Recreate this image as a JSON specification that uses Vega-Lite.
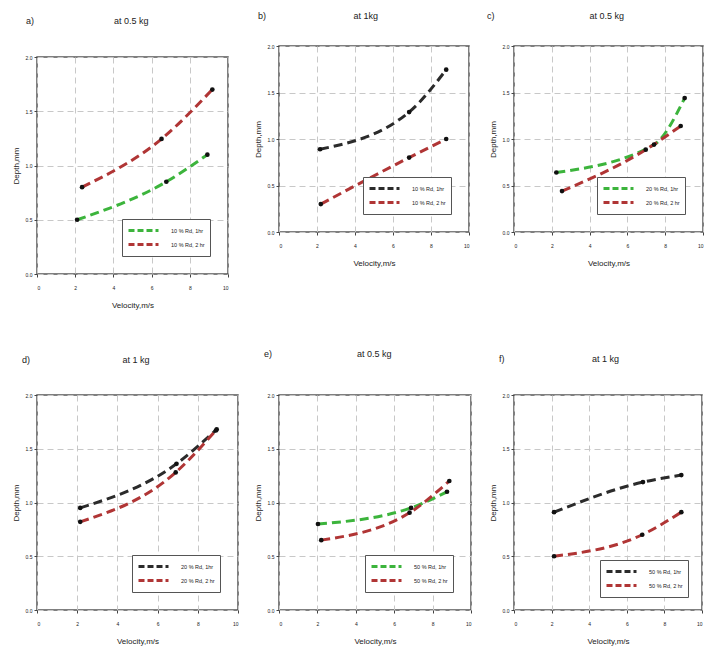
{
  "$schema": "https://vega.github.io/schema/vega-lite/v6.json",
  "padding": {"left": 11, "top": 10, "right": 0, "bottom": 0},
  "background": "white",
  "datasets": {
    "pts": [
      {"p": "a", "s": "10 % Rd, 1hr", "v": 2.1, "d": 0.5},
      {"p": "a", "s": "10 % Rd, 1hr", "v": 6.77, "d": 0.85},
      {"p": "a", "s": "10 % Rd, 1hr", "v": 8.92, "d": 1.1},
      {"p": "a", "s": "10 % Rd, 2 hr", "v": 2.36, "d": 0.8},
      {"p": "a", "s": "10 % Rd, 2 hr", "v": 6.52, "d": 1.245},
      {"p": "a", "s": "10 % Rd, 2 hr", "v": 9.18, "d": 1.7},
      {"p": "b", "s": "10 % Rd, 1hr", "v": 2.16, "d": 0.89},
      {"p": "b", "s": "10 % Rd, 1hr", "v": 6.85, "d": 1.29},
      {"p": "b", "s": "10 % Rd, 1hr", "v": 8.8, "d": 1.745},
      {"p": "b", "s": "10 % Rd, 2 hr", "v": 2.2, "d": 0.3},
      {"p": "b", "s": "10 % Rd, 2 hr", "v": 6.85, "d": 0.8},
      {"p": "b", "s": "10 % Rd, 2 hr", "v": 8.8, "d": 1.0},
      {"p": "c", "s": "20 % Rd, 1hr", "v": 2.24, "d": 0.64},
      {"p": "c", "s": "20 % Rd, 1hr", "v": 7.41, "d": 0.94},
      {"p": "c", "s": "20 % Rd, 1hr", "v": 9.03, "d": 1.44},
      {"p": "c", "s": "20 % Rd, 2 hr", "v": 2.54, "d": 0.44},
      {"p": "c", "s": "20 % Rd, 2 hr", "v": 6.97, "d": 0.885},
      {"p": "c", "s": "20 % Rd, 2 hr", "v": 8.82, "d": 1.14},
      {"p": "d", "s": "20 % Rd, 1hr", "v": 2.15, "d": 0.95},
      {"p": "d", "s": "20 % Rd, 1hr", "v": 6.94, "d": 1.36},
      {"p": "d", "s": "20 % Rd, 1hr", "v": 8.94, "d": 1.68},
      {"p": "d", "s": "20 % Rd, 2 hr", "v": 2.15, "d": 0.82},
      {"p": "d", "s": "20 % Rd, 2 hr", "v": 6.9, "d": 1.28},
      {"p": "d", "s": "20 % Rd, 2 hr", "v": 8.9, "d": 1.67},
      {"p": "e", "s": "50 % Rd, 1hr", "v": 2.03, "d": 0.8},
      {"p": "e", "s": "50 % Rd, 1hr", "v": 6.88, "d": 0.95},
      {"p": "e", "s": "50 % Rd, 1hr", "v": 8.75, "d": 1.1},
      {"p": "e", "s": "50 % Rd, 2 hr", "v": 2.2, "d": 0.65},
      {"p": "e", "s": "50 % Rd, 2 hr", "v": 6.8, "d": 0.905},
      {"p": "e", "s": "50 % Rd, 2 hr", "v": 8.87, "d": 1.2},
      {"p": "f", "s": "50 % Rd, 1hr", "v": 2.13, "d": 0.91},
      {"p": "f", "s": "50 % Rd, 1hr", "v": 6.86, "d": 1.19},
      {"p": "f", "s": "50 % Rd, 1hr", "v": 8.9, "d": 1.255},
      {"p": "f", "s": "50 % Rd, 2 hr", "v": 2.13, "d": 0.5},
      {"p": "f", "s": "50 % Rd, 2 hr", "v": 6.82, "d": 0.7},
      {"p": "f", "s": "50 % Rd, 2 hr", "v": 8.9, "d": 0.91}
    ]
  },
  "config": {
    "font": "Liberation Sans",
    "view": {"stroke": "#555555", "strokeWidth": 1.5},
    "title": {"fontSize": 9, "fontWeight": "normal", "color": "#222222", "anchor": "start", "frame": "group"},
    "axis": {
      "labelFontSize": 5, "labelColor": "#222222", "tickSize": 3, "tickColor": "#444444",
      "domain": false, "titleFontSize": 8, "titleFontWeight": "normal", "titleColor": "#222222",
      "gridColor": "#c8c8c8", "gridDash": [6, 4], "gridWidth": 1
    },
    "axisX": {"labelPadding": 8, "titlePadding": 11},
    "axisY": {"labelPadding": 2, "titlePadding": 5},
    "legend": {
      "orient": "bottom-right", "offset": 18, "strokeColor": "#555555", "fillColor": "white",
      "padding": 5, "symbolType": "M-1,0H5", "symbolSize": 100, "symbolStrokeWidth": 3,
      "symbolDash": [6, 3], "labelFontSize": 5.5, "labelOffset": 31, "rowPadding": 1, "labelColor": "#222222"
    }
  },
  "spacing": 13,
  "resolve": {"scale": {"color": "independent", "x": "independent", "y": "independent"}, "legend": {"color": "independent"}},
  "hconcat": [
    {
      "spacing": 0,
      "resolve": {"scale": {"color": "independent", "x": "independent", "y": "independent"}, "legend": {"color": "independent"}},
      "vconcat": [
        {"width": 1, "height": 6, "view": {"stroke": null}, "data": {"values": [{"k": 0}]}, "mark": {"type": "point", "opacity": 0, "size": 1}, "encoding": {}},
        {
          "spacing": 45,
          "resolve": {"scale": {"color": "independent", "x": "independent", "y": "independent"}, "legend": {"color": "independent"}},
          "vconcat": [
            {
              "width": 191, "height": 217,
              "title": {"text": "a)\u00a0\u00a0\u00a0\u00a0\u00a0\u00a0\u00a0\u00a0\u00a0\u00a0\u00a0\u00a0\u00a0\u00a0\u00a0\u00a0\u00a0\u00a0\u00a0\u00a0\u00a0\u00a0\u00a0\u00a0\u00a0\u00a0\u00a0\u00a0\u00a0\u00a0\u00a0\u00a0at 0.5 kg", "offset": 29, "dx": -11},
              "data": {"name": "pts"},
              "transform": [{"filter": "datum.p === 'a'"}],
              "encoding": {
                "x": {"field": "v", "type": "quantitative", "scale": {"domain": [0, 10], "nice": false}, "axis": {"values": [0, 2, 4, 6, 8, 10], "format": "d", "title": "Velocity,m/s"}},
                "y": {"field": "d", "type": "quantitative", "scale": {"domain": [0, 2], "nice": false}, "axis": {"values": [0, 0.5, 1, 1.5, 2], "format": ".1f", "title": "Depth,mm"}}
              },
              "layer": [
                {"mark": {"type": "line", "interpolate": "monotone", "strokeWidth": 3, "strokeDash": [9, 5]},
                 "encoding": {"color": {"field": "s", "type": "nominal", "scale": {"range": ["#3cb43c", "#b03535"]}, "legend": {"title": null}}}},
                {"mark": {"type": "point", "filled": true, "color": "#111111", "size": 22, "opacity": 1}}
              ]
            },
            {
              "width": 201, "height": 215,
              "title": {"text": "d)\u00a0\u00a0\u00a0\u00a0\u00a0\u00a0\u00a0\u00a0\u00a0\u00a0\u00a0\u00a0\u00a0\u00a0\u00a0\u00a0\u00a0\u00a0\u00a0\u00a0\u00a0\u00a0\u00a0\u00a0\u00a0\u00a0\u00a0\u00a0\u00a0\u00a0\u00a0\u00a0\u00a0\u00a0\u00a0\u00a0\u00a0at 1 kg", "offset": 28, "dx": -15},
              "data": {"name": "pts"},
              "transform": [{"filter": "datum.p === 'd'"}],
              "encoding": {
                "x": {"field": "v", "type": "quantitative", "scale": {"domain": [0, 10], "nice": false}, "axis": {"values": [0, 2, 4, 6, 8, 10], "format": "d", "title": "Velocity,m/s"}},
                "y": {"field": "d", "type": "quantitative", "scale": {"domain": [0, 2], "nice": false}, "axis": {"values": [0, 0.5, 1, 1.5, 2], "format": ".1f", "title": "Depth,mm"}}
              },
              "layer": [
                {"mark": {"type": "line", "interpolate": "monotone", "strokeWidth": 3, "strokeDash": [9, 5]},
                 "encoding": {"color": {"field": "s", "type": "nominal", "scale": {"range": ["#2b2b2b", "#b03535"]}, "legend": {"title": null}}}},
                {"mark": {"type": "point", "filled": true, "color": "#111111", "size": 22, "opacity": 1}}
              ]
            }
          ]
        }
      ]
    },
    {
      "spacing": 0,
      "resolve": {"scale": {"color": "independent", "x": "independent", "y": "independent"}, "legend": {"color": "independent"}},
      "vconcat": [
        {"width": 1, "height": 1, "view": {"stroke": null}, "data": {"values": [{"k": 0}]}, "mark": {"type": "point", "opacity": 0, "size": 1}, "encoding": {}},
        {
          "spacing": 81,
          "resolve": {"scale": {"color": "independent", "x": "independent", "y": "independent"}, "legend": {"color": "independent"}},
          "vconcat": [
            {
              "width": 190, "height": 186,
              "title": {"text": "b)\u00a0\u00a0\u00a0\u00a0\u00a0\u00a0\u00a0\u00a0\u00a0\u00a0\u00a0\u00a0\u00a0\u00a0\u00a0\u00a0\u00a0\u00a0\u00a0\u00a0\u00a0\u00a0\u00a0\u00a0\u00a0\u00a0\u00a0\u00a0\u00a0\u00a0\u00a0\u00a0\u00a0\u00a0\u00a0at 1kg", "offset": 23, "dx": -21},
              "data": {"name": "pts"},
              "transform": [{"filter": "datum.p === 'b'"}],
              "encoding": {
                "x": {"field": "v", "type": "quantitative", "scale": {"domain": [0, 10], "nice": false}, "axis": {"values": [0, 2, 4, 6, 8, 10], "format": "d", "title": "Velocity,m/s"}},
                "y": {"field": "d", "type": "quantitative", "scale": {"domain": [0, 2], "nice": false}, "axis": {"values": [0, 0.5, 1, 1.5, 2], "format": ".1f", "title": "Depth,mm"}}
              },
              "layer": [
                {"mark": {"type": "line", "interpolate": "monotone", "strokeWidth": 3, "strokeDash": [9, 5]},
                 "encoding": {"color": {"field": "s", "type": "nominal", "scale": {"range": ["#2b2b2b", "#b03535"]}, "legend": {"title": null}}}},
                {"mark": {"type": "point", "filled": true, "color": "#111111", "size": 22, "opacity": 1}}
              ]
            },
            {
              "width": 192, "height": 215,
              "title": {"text": "e)\u00a0\u00a0\u00a0\u00a0\u00a0\u00a0\u00a0\u00a0\u00a0\u00a0\u00a0\u00a0\u00a0\u00a0\u00a0\u00a0\u00a0\u00a0\u00a0\u00a0\u00a0\u00a0\u00a0\u00a0\u00a0\u00a0\u00a0\u00a0\u00a0\u00a0\u00a0\u00a0\u00a0\u00a0at 0.5 kg", "offset": 34, "dx": -15},
              "data": {"name": "pts"},
              "transform": [{"filter": "datum.p === 'e'"}],
              "encoding": {
                "x": {"field": "v", "type": "quantitative", "scale": {"domain": [0, 10], "nice": false}, "axis": {"values": [0, 2, 4, 6, 8, 10], "format": "d", "title": "Velocity,m/s"}},
                "y": {"field": "d", "type": "quantitative", "scale": {"domain": [0, 2], "nice": false}, "axis": {"values": [0, 0.5, 1, 1.5, 2], "format": ".1f", "title": "Depth,mm"}}
              },
              "layer": [
                {"mark": {"type": "line", "interpolate": "monotone", "strokeWidth": 3, "strokeDash": [9, 5]},
                 "encoding": {"color": {"field": "s", "type": "nominal", "scale": {"range": ["#3cb43c", "#b03535"]}, "legend": {"title": null}}}},
                {"mark": {"type": "point", "filled": true, "color": "#111111", "size": 22, "opacity": 1}}
              ]
            }
          ]
        }
      ]
    },
    {
      "spacing": 0,
      "resolve": {"scale": {"color": "independent", "x": "independent", "y": "independent"}, "legend": {"color": "independent"}},
      "vconcat": [
        {"width": 1, "height": 1, "view": {"stroke": null}, "data": {"values": [{"k": 0}]}, "mark": {"type": "point", "opacity": 0, "size": 1}, "encoding": {}},
        {
          "spacing": 86,
          "resolve": {"scale": {"color": "independent", "x": "independent", "y": "independent"}, "legend": {"color": "independent"}},
          "vconcat": [
            {
              "width": 189, "height": 186,
              "title": {"text": "c)\u00a0\u00a0\u00a0\u00a0\u00a0\u00a0\u00a0\u00a0\u00a0\u00a0\u00a0\u00a0\u00a0\u00a0\u00a0\u00a0\u00a0\u00a0\u00a0\u00a0\u00a0\u00a0\u00a0\u00a0\u00a0\u00a0\u00a0\u00a0\u00a0\u00a0\u00a0\u00a0\u00a0\u00a0\u00a0\u00a0\u00a0\u00a0at 0.5 kg", "offset": 23, "dx": -27},
              "data": {"name": "pts"},
              "transform": [{"filter": "datum.p === 'c'"}],
              "encoding": {
                "x": {"field": "v", "type": "quantitative", "scale": {"domain": [0, 10], "nice": false}, "axis": {"values": [0, 2, 4, 6, 8, 10], "format": "d", "title": "Velocity,m/s"}},
                "y": {"field": "d", "type": "quantitative", "scale": {"domain": [0, 2], "nice": false}, "axis": {"values": [0, 0.5, 1, 1.5, 2], "format": ".1f", "title": "Depth,mm"}}
              },
              "layer": [
                {"mark": {"type": "line", "interpolate": "monotone", "strokeWidth": 3, "strokeDash": [9, 5]},
                 "encoding": {"color": {"field": "s", "type": "nominal", "scale": {"range": ["#3cb43c", "#b03535"]}, "legend": {"title": null}}}},
                {"mark": {"type": "point", "filled": true, "color": "#111111", "size": 22, "opacity": 1}}
              ]
            },
            {
              "width": 188, "height": 215,
              "title": {"text": "f)\u00a0\u00a0\u00a0\u00a0\u00a0\u00a0\u00a0\u00a0\u00a0\u00a0\u00a0\u00a0\u00a0\u00a0\u00a0\u00a0\u00a0\u00a0\u00a0\u00a0\u00a0\u00a0\u00a0\u00a0\u00a0\u00a0\u00a0\u00a0\u00a0\u00a0\u00a0\u00a0\u00a0\u00a0\u00a0at 1 kg", "offset": 29, "dx": -15},
              "data": {"name": "pts"},
              "transform": [{"filter": "datum.p === 'f'"}],
              "encoding": {
                "x": {"field": "v", "type": "quantitative", "scale": {"domain": [0, 10], "nice": false}, "axis": {"values": [0, 2, 4, 6, 8, 10], "format": "d", "title": "Velocity,m/s"}},
                "y": {"field": "d", "type": "quantitative", "scale": {"domain": [0, 2], "nice": false}, "axis": {"values": [0, 0.5, 1, 1.5, 2], "format": ".1f", "title": "Depth,mm"}}
              },
              "layer": [
                {"mark": {"type": "line", "interpolate": "monotone", "strokeWidth": 3, "strokeDash": [9, 5]},
                 "encoding": {"color": {"field": "s", "type": "nominal", "scale": {"range": ["#2b2b2b", "#b03535"]}, "legend": {"title": null, "orient": "none", "legendX": 86, "legendY": 165}}}},
                {"mark": {"type": "point", "filled": true, "color": "#111111", "size": 22, "opacity": 1}}
              ]
            }
          ]
        }
      ]
    }
  ]
}
